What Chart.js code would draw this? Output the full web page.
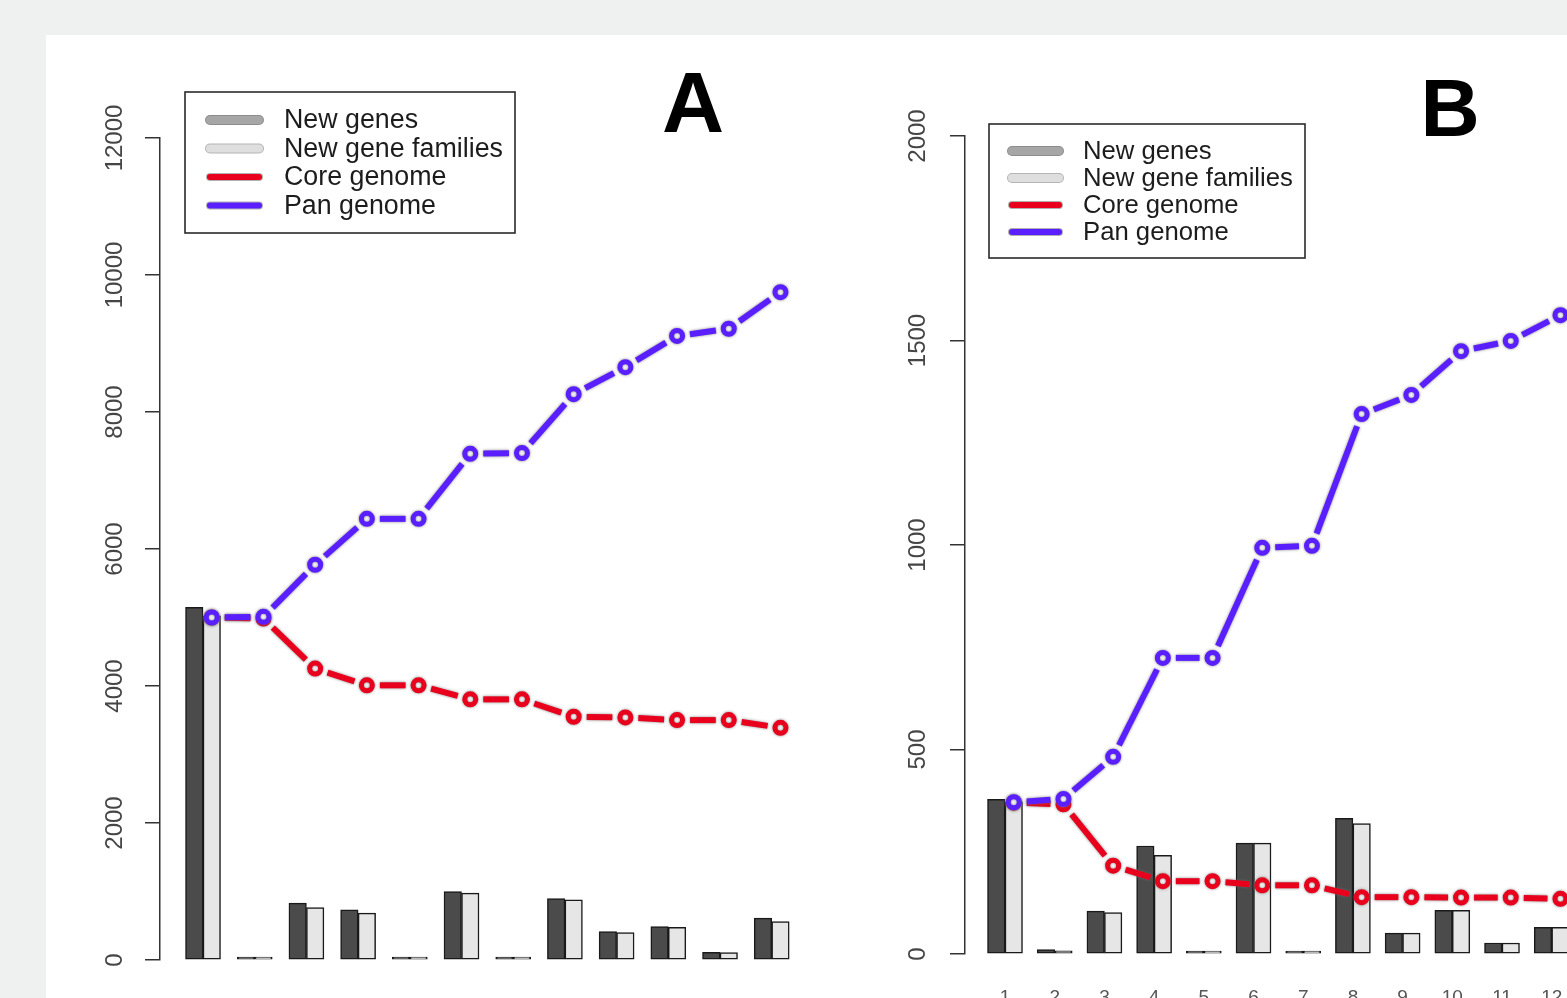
<!DOCTYPE html>
<html><head><meta charset="utf-8">
<script src="https://cdn.jsdelivr.net/npm/chart.js@4.4.1/dist/chart.umd.min.js"></script>
<style>
html,body{margin:0;padding:0;width:1567px;height:998px;overflow:hidden;background:#eff0f0;}
#panel{position:absolute;left:46px;top:35px;width:1600px;height:1000px;background:#fff;}
canvas{position:absolute;top:0;}
#cA{left:0;width:815px;height:1060px;}
#cB{left:800px;width:900px;height:1060px;}
.lab{position:absolute;width:120px;text-align:center;font-family:"Liberation Sans Narrow","Liberation Sans",Arial,sans-serif;font-weight:bold;color:#000;line-height:1;}
#labA{left:633px;top:59px;font-size:86px;}
#labB{left:1390px;top:67px;font-size:82px;}
</style></head>
<body>
<div id="panel"></div>
<canvas id="cA" width="815" height="1060"></canvas>
<canvas id="cB" width="900" height="1060"></canvas>
<div class="lab" id="labA">A</div>
<div class="lab" id="labB">B</div>
<script>
// ---------- data ----------
const categories = [1, 2, 3, 4, 5, 6, 7, 8, 9, 10, 11, 12];
const seriesNames = ['New genes', 'New gene families', 'Core genome', 'Pan genome'];

const yTicksA = [0, 2000, 4000, 6000, 8000, 10000, 12000];
const newGenesA    = [5150, 22, 830, 732, 18, 1000, 18, 895, 416, 488, 113, 612];
const newFamiliesA = [5025, 12, 767, 684, 8, 976, 12, 878, 400, 478, 107, 562];
const coreA = [5000, 4985, 4254, 4010, 4010, 3805, 3805, 3551, 3541, 3502, 3502, 3390];
const panA  = [5000, 5010, 5770, 6440, 6440, 7390, 7400, 8260, 8655, 9110, 9215, 9750];

const yTicksB = [0, 500, 1000, 1500, 2000];
const newGenesB    = [378, 11, 105, 264, 3, 271, 7, 332, 51, 107, 27, 65];
const newFamiliesB = [372, 8, 101, 241, 2, 271, 4, 319, 51, 107, 27, 65];
const coreB = [370, 366, 216, 178, 178, 168, 168, 139, 139, 138, 138, 135];
const panB  = [371, 379, 482, 724, 724, 993, 998, 1320, 1367, 1474, 1499, 1562];

// ---------- styles ----------
const RED = '#e8001c', BLUE = '#5a1fff', DARK = '#4b4b4b', LIGHT = '#e6e6e6';
const FONT = '"Liberation Sans", Arial, sans-serif';
const legendStyles = [
  {color: '#a6a6a6', edge: '#8c8c8c', width: 8},
  {color: '#dedede', edge: '#b4b4b4', width: 8},
  {color: RED, edge: '#b0b0b0', width: 6},
  {color: BLUE, edge: '#b0b0b0', width: 6}
];
const GAP = 13; // gap between line segment ends and point centres (type "b" look)

const boxLegend = {
  id: 'boxLegend',
  afterDraw(chart, args, o) {
    const ctx = chart.ctx;
    ctx.save();
    ctx.strokeStyle = '#2a2a2a';
    ctx.lineWidth = 1.6;
    ctx.strokeRect(o.x, o.y, o.w, o.h);
    ctx.font = o.fontSize + 'px ' + FONT;
    ctx.textBaseline = 'middle';
    ctx.textAlign = 'left';
    chart.data.datasets.forEach((ds, i) => {
      const st = legendStyles[i];
      const y = o.row0 + i * o.rowGap;
      ctx.lineCap = 'round';
      ctx.strokeStyle = st.edge;
      ctx.lineWidth = st.width + 2;
      ctx.beginPath(); ctx.moveTo(o.s0, y); ctx.lineTo(o.s1, y); ctx.stroke();
      ctx.strokeStyle = st.color;
      ctx.lineWidth = st.width;
      ctx.beginPath(); ctx.moveTo(o.s0, y); ctx.lineTo(o.s1, y); ctx.stroke();
      ctx.fillStyle = '#1c1c1c';
      ctx.fillText(ds.label, o.tx, y + 1);
    });
    ctx.restore();
  }
};

const halo = {
  id: 'halo',
  beforeDatasetDraw(chart, args) {
    if (chart.data.datasets[args.index].type === 'line') {
      chart.ctx.save();
      chart.ctx.shadowColor = 'rgba(110,110,110,0.85)';
      chart.ctx.shadowBlur = 3;
    }
  },
  afterDatasetDraw(chart, args) {
    if (chart.data.datasets[args.index].type === 'line') chart.ctx.restore();
  }
};

const segLen = (c) => Math.hypot(c.p1.x - c.p0.x, c.p1.y - c.p0.y);

function build(id, d) {
  const barW = 17.5;
  const xMin = d.xMin, xMax = d.xMin + d.plotW / d.pxPerUnit;
  const off = (barW / 2) / d.pxPerUnit;
  const bars = (vals) => categories.map((c, i) => ({x: c, y: vals[i]}));
  const pts = (vals) => categories.map((c, i) => ({x: c + off, y: vals[i]}));
  const lineDs = (label, vals, color, order) => ({
    type: 'line', label, data: pts(vals), order,
    borderColor: color, borderWidth: 6, tension: 0, clip: false,
    pointRadius: 5.5, pointHoverRadius: 5.5, pointBorderWidth: 5,
    pointBorderColor: color, pointBackgroundColor: '#ffffff', fill: false,
    segment: {
      borderDash: (c) => { const L = segLen(c); return [Math.max(L - 2 * GAP, 0.1), 2 * GAP]; },
      borderDashOffset: () => -GAP
    }
  });
  const barDs = (label, vals, color, order) => ({
    type: 'bar', label, data: bars(vals), order,
    backgroundColor: color, borderColor: '#1a1a1a', borderWidth: 1.5,
    borderSkipped: false, barThickness: barW, minBarLength: 3, clip: false
  });
  return new Chart(document.getElementById(id), {
    type: 'bar',
    data: {
      datasets: [
        barDs(seriesNames[0], d.g, DARK, 2),
        barDs(seriesNames[1], d.f, LIGHT, 3),
        lineDs(seriesNames[2], d.core, RED, 1),
        lineDs(seriesNames[3], d.pan, BLUE, 0)
      ]
    },
    plugins: [boxLegend, halo],
    options: {
      responsive: false, animation: false, events: [],
      layout: {padding: {left: 0, right: d.padR, top: d.top, bottom: d.padB}},
      plugins: {
        legend: {display: false}, tooltip: {enabled: false},
        boxLegend: d.legend
      },
      scales: {
        x: {
          type: 'linear', position: 'bottom', min: xMin, max: xMax, offset: false,
          grid: {display: false, drawTicks: true, tickLength: d.xLabGap, offset: false}, border: {display: false},
          afterBuildTicks: (s) => { s.ticks = categories.map(v => ({value: v})); },
          afterFit: (s) => { s.height = 50; },
          ticks: {font: {family: FONT, size: 19}, color: '#555', padding: 2,
                  autoSkip: false, maxRotation: 0, includeBounds: false,
                  callback: (v) => String(v)}
        },
        y: {
          type: 'linear', position: 'left', min: 0, max: d.yTicks[d.yTicks.length - 1],
          afterBuildTicks: (s) => { s.ticks = d.yTicks.map(v => ({value: v})); },
          afterFit: (s) => { s.width = d.axisX; },
          grid: {drawOnChartArea: false, drawTicks: true, tickLength: 15, color: '#333', lineWidth: 1.5},
          border: {display: true, color: '#333', width: 1.5},
          ticks: {minRotation: 90, maxRotation: 90, crossAlign: 'center', padding: d.tickPad,
                  font: {family: FONT, size: 24}, color: '#454545', autoSkip: false,
                  callback: (v) => String(v)}
        }
      }
    }
  });
}

build('cA', {
  g: newGenesA, f: newFamiliesA, core: coreA, pan: panA, yTicks: yTicksA,
  axisX: 160, plotW: 640, padR: 15, top: 138, padB: 50, xMin: 0.168, pxPerUnit: 51.7, tickPad: -4, xLabGap: 32,
  legend: {x: 185, y: 92, w: 330, h: 141, row0: 120, rowGap: 28.5, s0: 210, s1: 259, tx: 284, fontSize: 26.8}
});
build('cB', {
  g: newGenesB, f: newFamiliesB, core: coreB, pan: panB, yTicks: yTicksB,
  axisX: 165, plotW: 650, padR: 85, top: 136, padB: 56, xMin: 0.195, pxPerUnit: 49.7, tickPad: 5, xLabGap: 30,
  legend: {x: 189, y: 124, w: 316, h: 134, row0: 151, rowGap: 27, s0: 212, s1: 259, tx: 283, fontSize: 25.7}
});
</script>
</body></html>
